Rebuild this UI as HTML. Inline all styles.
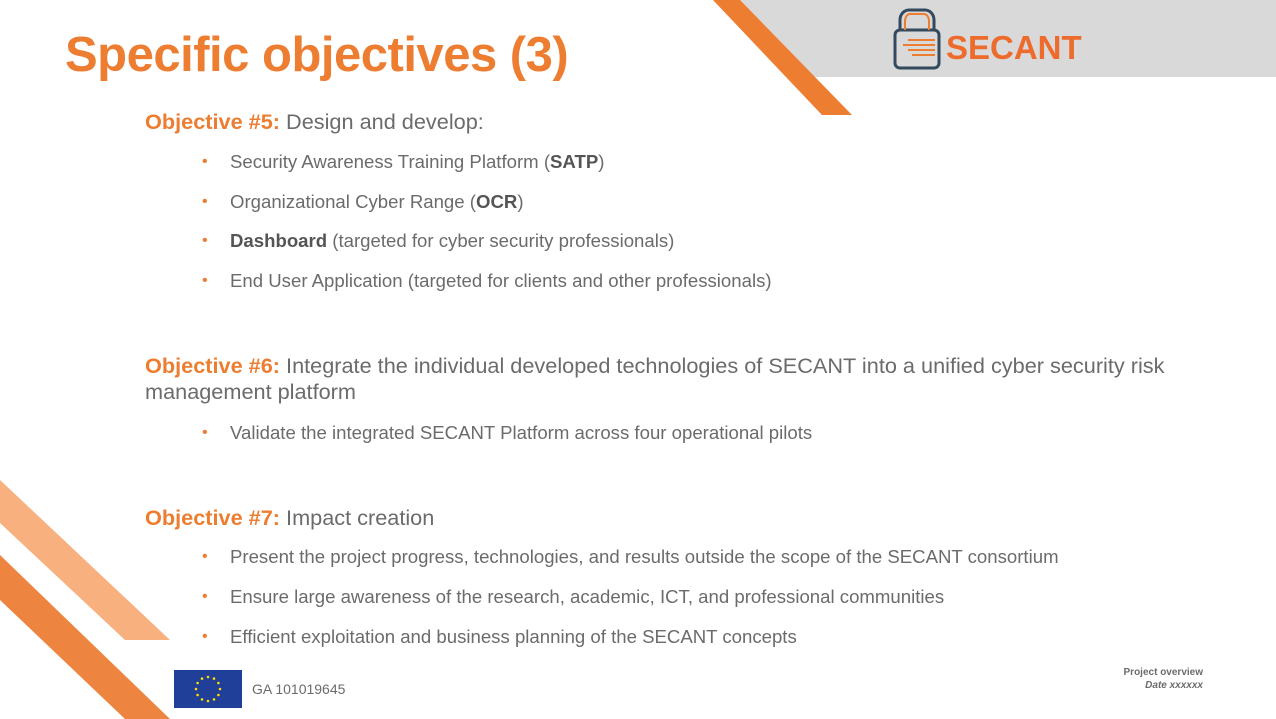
<!DOCTYPE html>
<html><head><meta charset="utf-8"><style>
body{margin:0;width:1276px;height:719px;position:relative;overflow:hidden;background:#fff;font-family:"Liberation Sans",Arial,sans-serif;}
.a{position:absolute;white-space:nowrap;}
.h{font-size:21.7px;color:#6b6b6b;}
.h b{color:#ed7d31;}
.li{font-size:18.6px;color:#6b6b6b;}
.li::before{content:"•";color:#ed7d31;position:absolute;left:-28px;font-size:16px;top:2px;}
.li b{color:#555;}
</style></head><body>
<svg class="a" style="left:0;top:0" width="1276" height="719">
<polygon points="713,0 1276,0 1276,77 803,77" fill="#d9d9d9"/>
<polygon points="713,0 740,0 852,115 822,115" fill="#ed7d31"/>
<polygon points="0,480 170,640 125,640 0,523" fill="#f8b07e"/>
<polygon points="0,555 170,719 125,719 0,600" fill="#ed8540"/>
<rect x="174" y="670" width="68" height="38" fill="#1f3f99"/>
<g fill="#ffdd00">
<circle cx="208" cy="677" r="1.3"/><circle cx="208" cy="701" r="1.3"/><circle cx="196" cy="689" r="1.3"/><circle cx="220" cy="689" r="1.3"/>
<circle cx="214" cy="678.6" r="1.3"/><circle cx="218.4" cy="683" r="1.3"/><circle cx="218.4" cy="695" r="1.3"/><circle cx="214" cy="699.4" r="1.3"/>
<circle cx="202" cy="678.6" r="1.3"/><circle cx="197.6" cy="683" r="1.3"/><circle cx="197.6" cy="695" r="1.3"/><circle cx="202" cy="699.4" r="1.3"/>
</g>
<rect x="895" y="30" width="44" height="38" rx="5" fill="none" stroke="#34495e" stroke-width="3"/>
<path d="M900,30 V20 a9,10 0 0 1 9,-10 h16 a9,10 0 0 1 9,10 V30" fill="none" stroke="#34495e" stroke-width="3"/>
<path d="M905,30 V21 a5,7 0 0 1 5,-7 h14 a5,7 0 0 1 5,7 V30" fill="none" stroke="#ed7d31" stroke-width="2"/>
<g stroke="#ed7d31" stroke-width="2"><line x1="903" y1="45" x2="935" y2="45"/><line x1="908" y1="40" x2="935" y2="40"/><line x1="908" y1="50" x2="935" y2="50"/><line x1="912" y1="55" x2="935" y2="55"/></g>
</svg>
<div class="a" style="left:946px;top:29px;font-size:33px;font-weight:bold;color:#ed6b2d;">SECANT</div>
<div class="a" style="left:65px;top:27px;font-size:49px;font-weight:bold;color:#ed7d31;letter-spacing:-0.5px;">Specific objectives (3)</div>

<div class="a h" style="left:145px;top:109px"><b>Objective #5:</b> Design and develop:</div>
<div class="a li" style="left:230px;top:151px">Security Awareness Training Platform (<b>SATP</b>)</div>
<div class="a li" style="left:230px;top:191px">Organizational Cyber Range (<b>OCR</b>)</div>
<div class="a li" style="left:230px;top:230px"><b>Dashboard</b> (targeted for cyber security professionals)</div>
<div class="a li" style="left:230px;top:270px">End User Application (targeted for clients and other professionals)</div>

<div class="a h" style="left:145px;top:353px"><b>Objective #6:</b> Integrate the individual developed technologies of SECANT into a unified cyber security risk</div>
<div class="a h" style="left:145px;top:379px">management platform</div>
<div class="a li" style="left:230px;top:422px">Validate the integrated SECANT Platform across four operational pilots</div>

<div class="a h" style="left:145px;top:505px"><b>Objective #7:</b> Impact creation</div>
<div class="a li" style="left:230px;top:546px">Present the project progress, technologies, and results outside the scope of the SECANT consortium</div>
<div class="a li" style="left:230px;top:586px">Ensure large awareness of the research, academic, ICT, and professional communities</div>
<div class="a li" style="left:230px;top:626px">Efficient exploitation and business planning of the SECANT concepts</div>

<div class="a" style="left:252px;top:681px;font-size:14px;color:#6b6b6b">GA 101019645</div>
<div class="a" style="right:73px;top:666px;font-size:10px;font-weight:bold;color:#6b6b6b;text-align:right;line-height:13px">Project overview<br><i>Date xxxxxx</i></div>
</body></html>
